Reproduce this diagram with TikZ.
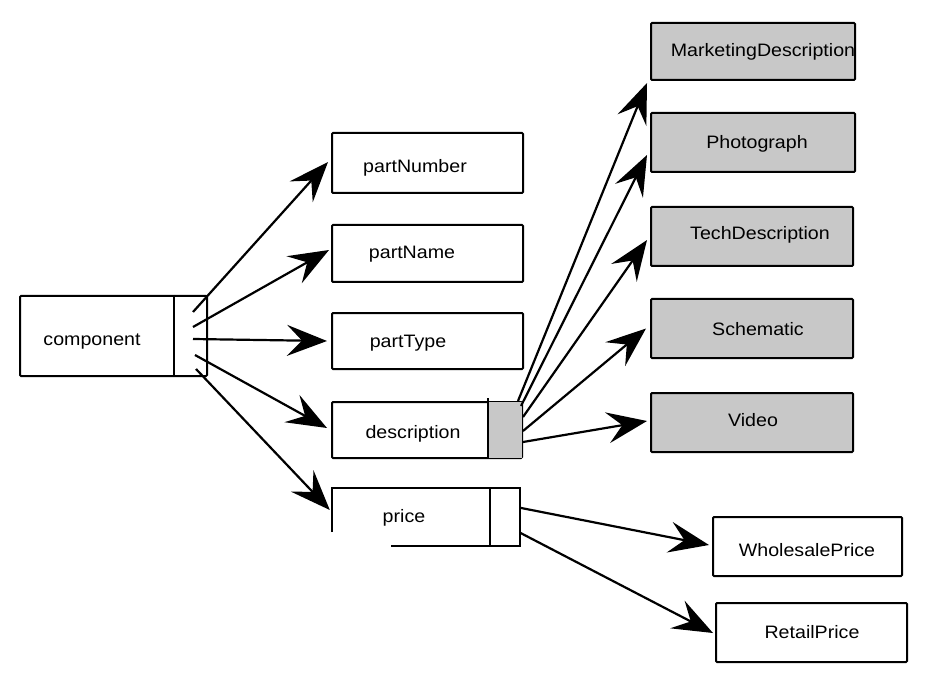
\documentclass[tikz,border=0pt]{standalone}
\usepackage{fontspec}
\setmainfont{Liberation Sans}[FakeStretch=1.09]
\usetikzlibrary{arrows.meta,calc}
\definecolor{boxgray}{RGB}{200,200,200}
\tikzset{
  box/.style={draw, line width=2pt, inner sep=0pt, rounded corners=1pt},
  wbox/.style={box, fill=white},
  gbox/.style={box, fill=boxgray},
  lbl/.style={anchor=base, inner sep=0pt, font=\fontsize{18}{21}\selectfont},
  rule/.style={line width=2pt},
  link/.style={line width=2.2pt, -{Stealth[length=40pt,width=31pt,inset=15pt]}},
}
\begin{document}
\begin{tikzpicture}[x=1pt,y=-1pt]
\useasboundingbox (0,0) rectangle (928,684);

% component
\node[wbox, minimum width=187pt, minimum height=80pt] (comp) at (113.5,336) {};
\draw[rule] ($(comp.north east)+(-34,0)$) -- ($(comp.south east)+(-34,0)$);
\node[lbl] (tcomp) at (92,345) {component};

% left column
\node[wbox, minimum width=191pt, minimum height=60pt] (pnum) at (427.5,163) {};
\node[lbl] (tpnum) at (415,173) {partNumber};
\node[wbox, minimum width=191pt, minimum height=57pt] (pname) at (427.5,253.5) {};
\node[lbl] (tpname) at (412,259) {partName};
\node[wbox, minimum width=191pt, minimum height=56pt] (ptype) at (427.5,341) {};
\node[lbl] (tptype) at (408,347) {partType};

% description
\node[wbox, minimum width=190pt, minimum height=56pt] (desc) at (427,430) {};
\fill[boxgray] ($(desc.north east)+(-34,1)$) rectangle ($(desc.south east)+(-1,-1)$);
\draw[rule] ($(desc.north east)+(-35,-3)$) -- ($(desc.south east)+(-35,0)$);
\node[lbl] (tdesc) at (413,438) {description};

% price (broken outline)
\node[minimum width=188pt, minimum height=58pt, inner sep=0pt] (price) at (426,517) {};
\draw[rule] ($(price.south west)+(0,-14)$) -- (price.north west) -- (price.north east)
  -- (price.south east) -- ($(price.south west)+(59,0)$);
\draw[rule] ($(price.north west)+(158,0)$) -- ($(price.south west)+(158,0)$);
\node[lbl] (tprice) at (404,522) {price};

% gray column
\node[gbox, minimum width=204pt, minimum height=57pt] (mkt) at (753,51.5) {};
\node[lbl] (tmkt) at (763,57) {MarketingDescription};
\node[gbox, minimum width=204pt, minimum height=59pt] (photo) at (753,142.5) {};
\node[lbl] (tphoto) at (757,149) {Photograph};
\node[gbox, minimum width=202pt, minimum height=59pt] (tech) at (752,236.5) {};
\node[lbl] (ttech) at (760,240) {TechDescription};
\node[gbox, minimum width=202pt, minimum height=59pt] (schem) at (752,328.5) {};
\node[lbl] (tschem) at (758,335) {Schematic};
\node[gbox, minimum width=202pt, minimum height=59pt] (video) at (752,422.5) {};
\node[lbl] (tvideo) at (753,426) {Video};

% price targets
\node[wbox, minimum width=189pt, minimum height=59pt] (whole) at (807.5,546.5) {};
\node[lbl] (twhole) at (807,556) {WholesalePrice};
\node[wbox, minimum width=191pt, minimum height=59pt] (retail) at (811.5,632.5) {};
\node[lbl] (tretail) at (812,638) {RetailPrice};

% connectors from component
\coordinate (c1) at ($(comp.north east)+(-15,17)$);
\coordinate (c2) at ($(comp.north east)+(-15,32)$);
\coordinate (c3) at ($(comp.north east)+(-15,44)$);
\coordinate (c4) at ($(comp.north east)+(-13,60)$);
\coordinate (c5) at ($(comp.north east)+(-12,74)$);
\draw[link] (c1) -- ($(pnum.west)+(-3,-1)$);
\draw[link] (c2) -- ($(pname.west)+(-2,-3.5)$);
\draw[link] (c3) -- ($(ptype.west)+(-4,0)$);
\draw[link] (c4) -- ($(desc.west)+(-4,-2)$);
\draw[link] (c5) -- ($(price.west)+(-2,-7)$);

% connectors from description
\coordinate (d1) at ($(desc.north east)+(-5,0)$);
\coordinate (d2) at ($(desc.north east)+(-2,5)$);
\coordinate (d3) at ($(desc.north east)+(0,16)$);
\coordinate (d4) at ($(desc.north east)+(0,30)$);
\coordinate (d5) at ($(desc.north east)+(0,41)$);
\draw[link] (d1) -- ($(mkt.south west)+(-3,2)$);
\draw[link] (d2) -- ($(photo.west)+(-3,12.5)$);
\draw[link] (d3) -- ($(tech.west)+(-3,3.5)$);
\draw[link] (d4) -- ($(schem.west)+(-4,0)$);
\draw[link] (d5) -- ($(video.west)+(-3,-1.5)$);

% connectors from price
\coordinate (p1) at ($(price.north east)+(0,20)$);
\coordinate (p2) at ($(price.north east)+(0,45)$);
\draw[link] (p1) -- ($(whole.west)+(-3,-1.5)$);
\draw[link] (p2) -- ($(retail.west)+(-2,0.5)$);
\end{tikzpicture}
\end{document}
